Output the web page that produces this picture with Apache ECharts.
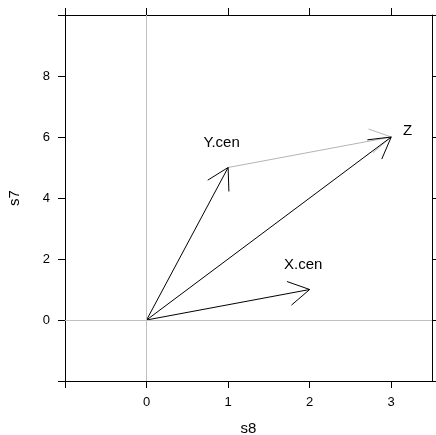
<!DOCTYPE html>
<html>
<head>
<meta charset="utf-8">
<script src="https://cdn.jsdelivr.net/npm/echarts@6/dist/echarts.min.js"></script>
<style>
  html, body { margin: 0; padding: 0; background: #fff; }
  #chart { width: 436px; height: 435px; }
</style>
</head>
<body>
<div id="chart"></div>
<script>
// arrows from the origin (black)
var arrowFromX = [0, 0, 0];
var arrowFromY = [0, 0, 0];
var arrowToX = [2, 1, 3];
var arrowToY = [1, 5, 6];
// grey arrow Y.cen -> Z
var greyFromX = [1];
var greyFromY = [5];
var greyToX = [3];
var greyToY = [6];
// text labels and where they sit
var labelText = ['X.cen', 'Y.cen', 'Z'];
var labelX = [1.92, 0.92, 3.2];
var labelY = [1.81, 5.81, 6.2];
// axis ticks
var xTicks = [-1, 0, 1, 2, 3];
var xTickLabels = [0, 1, 2, 3];
var yTicks = [-2, 0, 2, 4, 6, 8, 10];
var yTickLabels = [0, 2, 4, 6, 8];

var FONT = '"Liberation Sans", Arial, Helvetica, sans-serif';
var HEAD = 24; // arrow head length, px

function pack(x0, y0, x1, y1) {
  var out = [];
  for (var i = 0; i < x0.length; i++) out.push([x0[i], y0[i], x1[i], y1[i]]);
  return out;
}

function arrowItem(color) {
  return function (params, api) {
    var p0 = api.coord([api.value(0), api.value(1)]);
    var p1 = api.coord([api.value(2), api.value(3)]);
    var a = Math.atan2(p1[1] - p0[1], p1[0] - p0[0]);
    var h1 = [p1[0] - HEAD * Math.cos(a - Math.PI / 6), p1[1] - HEAD * Math.sin(a - Math.PI / 6)];
    var h2 = [p1[0] - HEAD * Math.cos(a + Math.PI / 6), p1[1] - HEAD * Math.sin(a + Math.PI / 6)];
    var st = { stroke: color, lineWidth: 1, fill: null };
    return {
      type: 'group',
      children: [
        { type: 'line', shape: { x1: p0[0], y1: p0[1], x2: p1[0], y2: p1[1] }, style: st },
        { type: 'polyline', shape: { points: [h1, p1, h2] }, style: st }
      ]
    };
  };
}

var labelData = labelText.map(function (t, i) { return [labelX[i], labelY[i], t]; });

var axisLineStyle = { show: true, onZero: false, lineStyle: { color: '#000', width: 1 } };

var chart = echarts.init(document.getElementById('chart'));
chart.setOption({
  animation: false,
  textStyle: { fontFamily: FONT },
  grid: { left: 65, right: 4, top: 15, bottom: 54, containLabel: false, outerBoundsMode: 'none' },
  xAxis: [
    {
      type: 'value', position: 'bottom', min: -1, max: 3.5,
      name: 's8', nameLocation: 'middle', nameGap: 40,
      nameTextStyle: { color: '#000', fontSize: 15, fontFamily: FONT },
      axisLine: axisLineStyle,
      axisTick: { show: true, length: 7, customValues: xTicks, lineStyle: { color: '#000' } },
      axisLabel: { customValues: xTickLabels, margin: 15, color: '#000', fontSize: 13, fontFamily: FONT },
      splitLine: { show: false }
    },
    {
      type: 'value', position: 'top', min: -1, max: 3.5,
      axisLine: axisLineStyle,
      axisTick: { show: true, length: 7, customValues: xTicks, lineStyle: { color: '#000' } },
      axisLabel: { show: false },
      splitLine: { show: false }
    }
  ],
  yAxis: [
    {
      type: 'value', position: 'left', min: -2, max: 10,
      name: 's7', nameLocation: 'middle', nameGap: 43,
      nameTextStyle: { color: '#000', fontSize: 15, fontFamily: FONT },
      axisLine: axisLineStyle,
      axisTick: { show: true, length: 7, customValues: yTicks, lineStyle: { color: '#000' } },
      axisLabel: { customValues: yTickLabels, margin: 15, color: '#000', fontSize: 13, fontFamily: FONT },
      splitLine: { show: false }
    },
    {
      type: 'value', position: 'right', min: -2, max: 10,
      axisLine: axisLineStyle,
      axisTick: { show: true, length: 7, customValues: yTicks, lineStyle: { color: '#000' } },
      axisLabel: { show: false },
      splitLine: { show: false }
    }
  ],
  series: [
    {
      // reference lines through the origin
      type: 'line', data: [], silent: true,
      markLine: {
        symbol: ['none', 'none'], silent: true, animation: false,
        label: { show: false },
        lineStyle: { color: '#c0c0c0', width: 1, type: 'solid' },
        data: [{ xAxis: 0 }, { yAxis: 0 }]
      }
    },
    {
      type: 'custom', renderItem: arrowItem('#b4b4b4'),
      data: pack(greyFromX, greyFromY, greyToX, greyToY), silent: true
    },
    {
      type: 'custom', renderItem: arrowItem('#000'),
      data: pack(arrowFromX, arrowFromY, arrowToX, arrowToY), silent: true
    },
    {
      type: 'custom', silent: true, data: labelData,
      renderItem: function (params, api) {
        var p = api.coord([api.value(0), api.value(1)]);
        return {
          type: 'text', x: p[0], y: p[1],
          style: {
            text: labelText[params.dataIndex], fill: '#000',
            font: '15px ' + FONT, align: 'center', verticalAlign: 'middle'
          }
        };
      }
    }
  ]
});
</script>
</body>
</html>
